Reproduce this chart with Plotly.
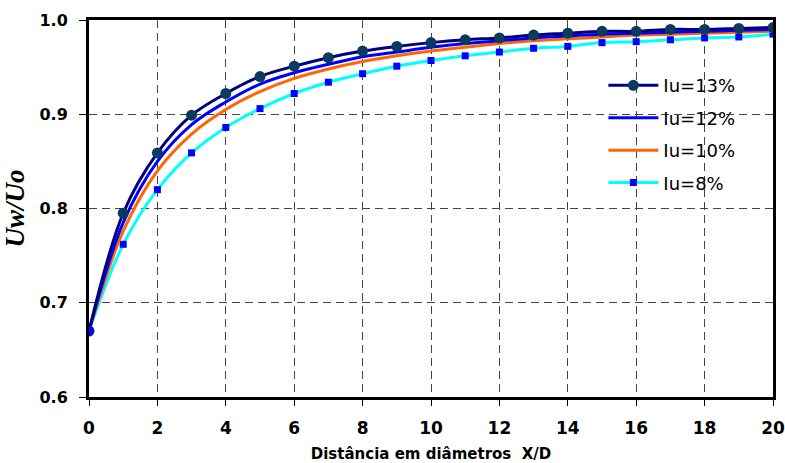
import plotly.graph_objects as go

x = list(range(0, 21))
iu13 = [0.670, 0.795, 0.859, 0.899, 0.922, 0.940, 0.951, 0.960, 0.967, 0.972, 0.976,
        0.979, 0.981, 0.984, 0.986, 0.988, 0.988, 0.990, 0.990, 0.991, 0.992]
iu12 = [0.670, 0.785, 0.850, 0.889, 0.913, 0.932, 0.944, 0.953, 0.961, 0.966, 0.971,
        0.975, 0.978, 0.981, 0.983, 0.985, 0.986, 0.987, 0.988, 0.989, 0.990]
iu10 = [0.670, 0.776, 0.840, 0.879, 0.905, 0.924, 0.938, 0.948, 0.956, 0.962, 0.967,
        0.971, 0.975, 0.978, 0.980, 0.982, 0.984, 0.985, 0.986, 0.987, 0.988]
iu8 = [0.670, 0.762, 0.820, 0.859, 0.886, 0.906, 0.922, 0.934, 0.943, 0.951, 0.957,
       0.962, 0.966, 0.970, 0.972, 0.976, 0.977, 0.979, 0.981, 0.982, 0.985]
names = ["Iu=13%", "Iu=12%", "Iu=10%", "Iu=8%"]
xticks = list(range(0, 21, 2))
yticks = [0.6, 0.7, 0.8, 0.9, 1.0]

fig = go.Figure()
fig.add_trace(go.Scatter(x=x, y=iu8, name=names[3], mode="lines+markers", legendgroup="d", legendrank=4,
                         line=dict(color="#00FFFF", width=3, shape="spline"),
                         marker=dict(symbol="square", size=7, color="#0000FF")))
fig.add_trace(go.Scatter(x=x, y=iu10, name=names[2], mode="lines", legendgroup="c", legendrank=3,
                         line=dict(color="#FF6600", width=3, shape="spline")))
fig.add_trace(go.Scatter(x=x, y=iu12, name=names[1], mode="lines", legendgroup="b", legendrank=2,
                         line=dict(color="#0000FF", width=3, shape="spline")))
fig.add_trace(go.Scatter(x=x, y=iu13, name=names[0], mode="lines+markers", legendgroup="a", legendrank=1,
                         line=dict(color="#000080", width=3, shape="spline"),
                         marker=dict(symbol="circle", size=11, color="#0B3A60")))
fig.add_trace(go.Scatter(x=x[:1], y=iu12[:1], mode="markers", showlegend=False,
                         marker=dict(symbol="circle", size=10, color="#0000FF")))

grid = dict(showgrid=True, gridcolor="#444444", gridwidth=1, griddash="8px,5px")
fig.update_xaxes(range=[0, 20], tickvals=xticks, ticktext=[str(v) for v in xticks],
                 showline=True, linecolor="black", linewidth=3, mirror=True,
                 ticks="outside", ticklen=6, tickcolor="black", zeroline=False,
                 ticklabelstandoff=8, automargin=False,
                 tickfont=dict(family="DejaVu Sans", size=17, color="black", weight="bold"),
                 title=dict(text="Distância em diâmetros  X/D", standoff=12,
                            font=dict(family="DejaVu Sans", size=15, color="black", weight="bold")),
                 **grid)
fig.update_yaxes(range=[0.6, 1.0], tickvals=yticks, ticktext=["%.1f" % v for v in yticks],
                 showline=True, linecolor="black", linewidth=3, mirror=True,
                 ticks="outside", ticklen=7, tickcolor="black", zeroline=False,
                 ticklabelstandoff=8, automargin=False,
                 tickfont=dict(family="DejaVu Sans", size=16, color="black", weight="bold"),
                 title=dict(text="<b><i>Uw/Uo</i></b>", standoff=8,
                            font=dict(family="Liberation Serif", size=27, color="black")),
                 **grid)
fig.update_layout(
    width=785, height=463,
    margin=dict(l=89, r=12, t=20, b=66),
    plot_bgcolor="white", paper_bgcolor="white",
    legend=dict(x=0.752, y=0.875, xanchor="left", yanchor="top",
                bgcolor="rgba(0,0,0,0)", tracegroupgap=6, itemwidth=50,
                font=dict(family="DejaVu Sans", size=18, color="black")),
)
fig.write_html("out.html")
